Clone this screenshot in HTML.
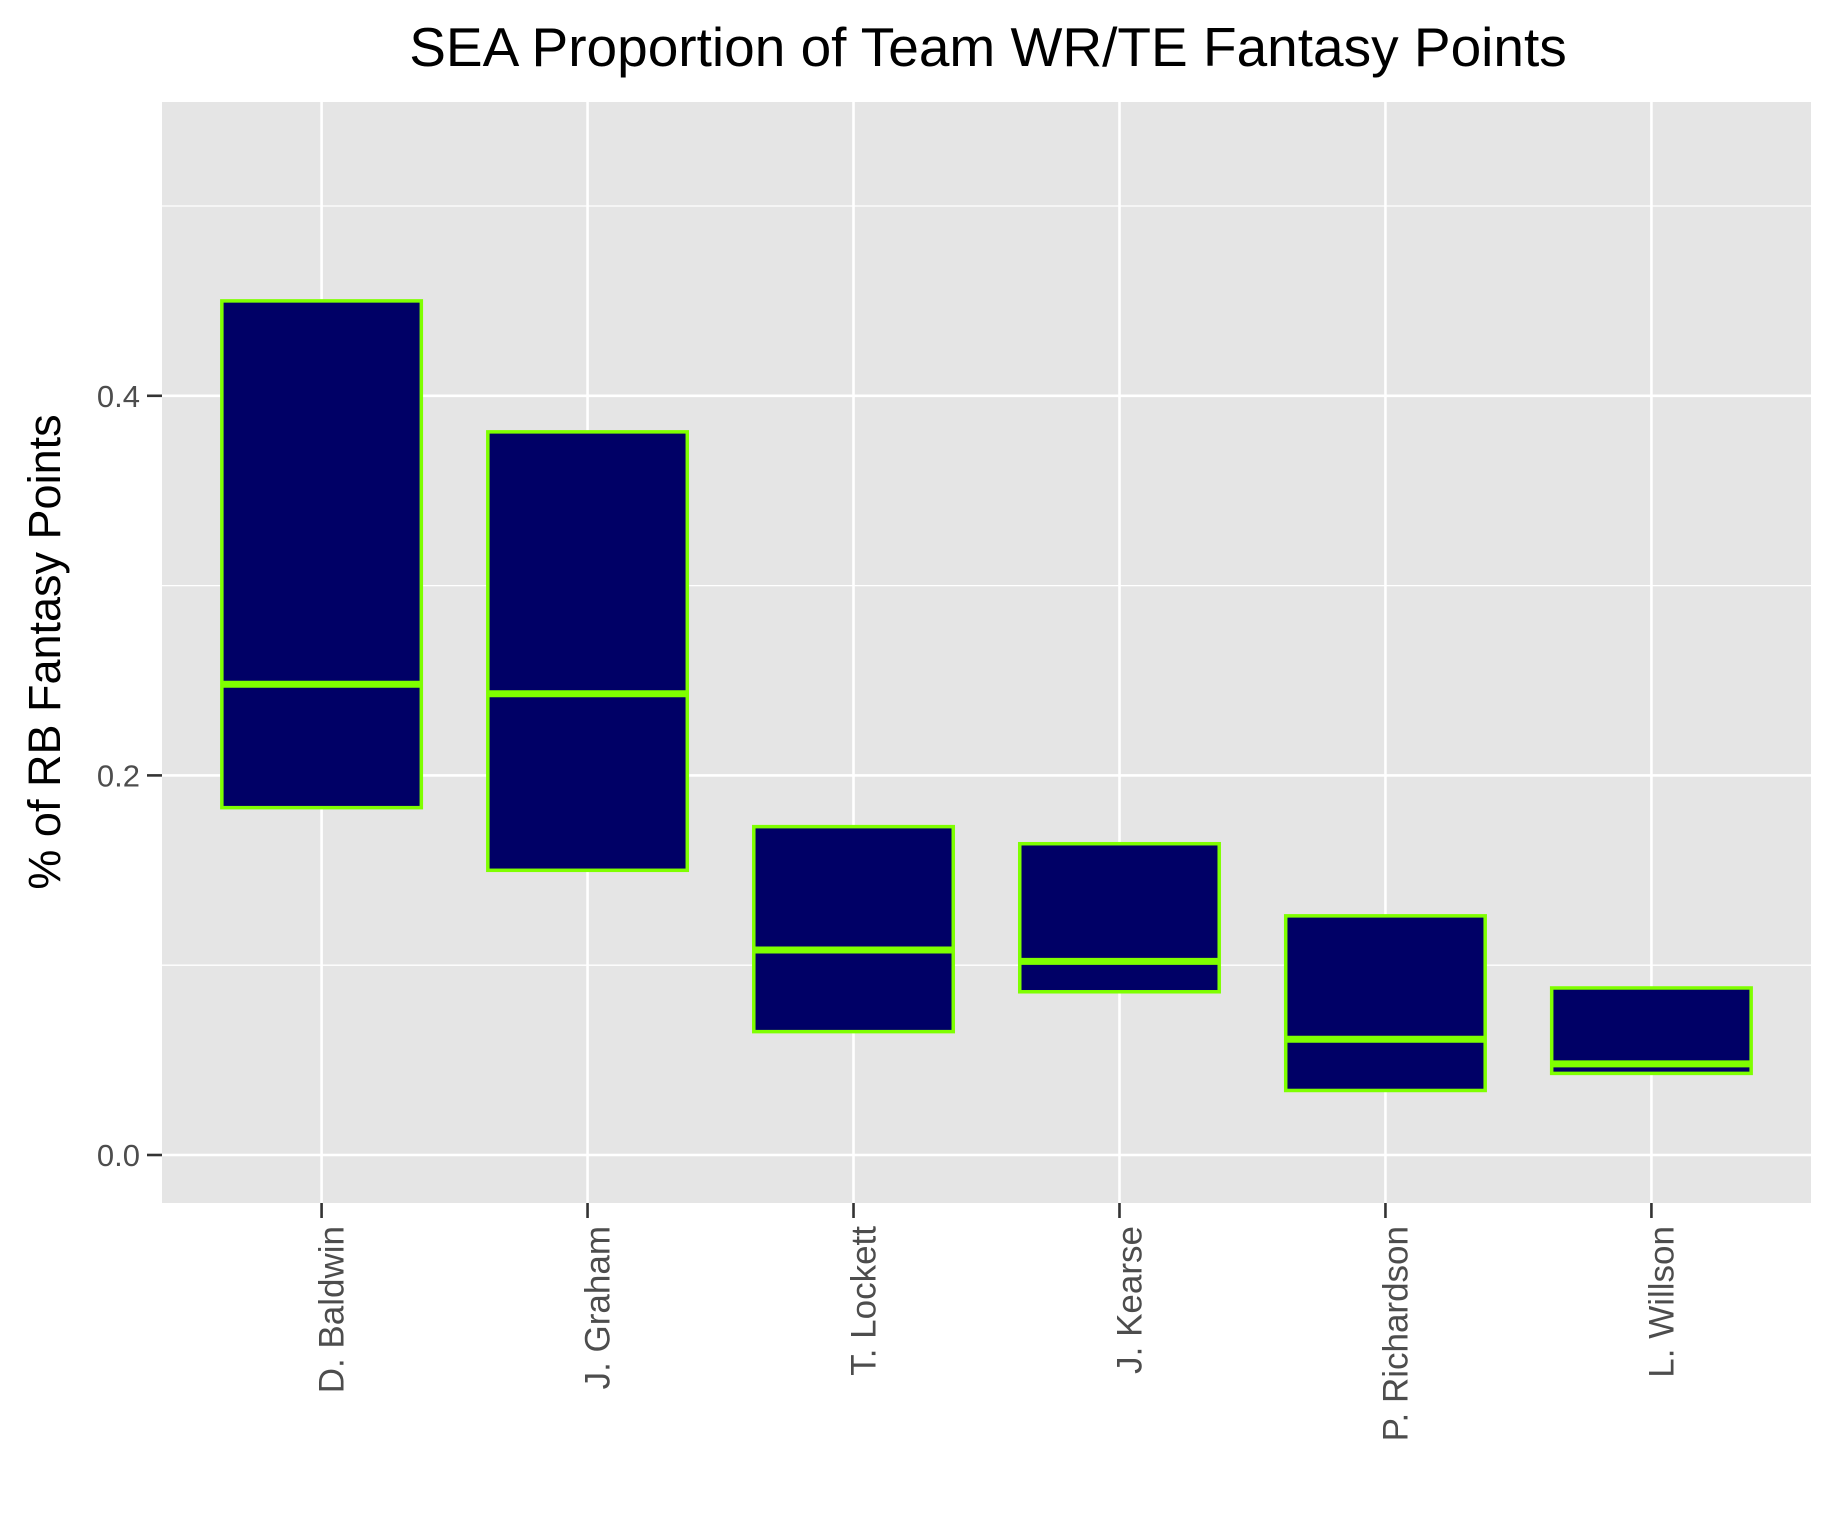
<!DOCTYPE html>
<html><head><meta charset="utf-8"><style>body{margin:0;background:#fff}svg{display:block}text{font-family:"Liberation Sans",Arial,sans-serif}</style></head>
<body>
<svg id="c" width="1833" height="1529"></svg>
<script>
const categories=["D. Baldwin","J. Graham","T. Lockett","J. Kearse","P. Richardson","L. Willson"];
const q1=[0.183,0.150,0.065,0.086,0.034,0.043];
const med=[0.248,0.243,0.108,0.102,0.061,0.048];
const q3=[0.450,0.381,0.173,0.164,0.126,0.088];
const yTicks=[0,0.2,0.4];
const yMinor=[0.1,0.3,0.5];
const ns="http://www.w3.org/2000/svg";
const svg=document.getElementById('c');
const L=162,R=1811,T=102,B=1203;
const y=v=>1155-v*1898;
const x=i=>L+(i+1-0.4)*(R-L)/6.2;
const bw=0.75*(R-L)/6.2;
function mk(t,a,p){const e=document.createElementNS(ns,t);for(const k in a)e.setAttribute(k,a[k]);(p||svg).appendChild(e);return e;}
const panel=mk('rect',{x:L,y:T,width:R-L,height:B-T,fill:'#e5e5e5'});


yMinor.forEach(v=>{const g=mk('line',{x1:L,x2:R,y1:y(v),y2:y(v),stroke:'#fff','stroke-width':1.3});

});
yTicks.forEach(v=>{const g=mk('line',{x1:L,x2:R,y1:y(v),y2:y(v),stroke:'#fff','stroke-width':2.6});


const tk=mk('line',{x1:147,x2:L,y1:y(v),y2:y(v),stroke:'#333','stroke-width':2.6});


const t=mk('text',{x:140,y:y(v)+11,'text-anchor':'end','font-size':31,fill:'#4d4d4d'});t.textContent=v.toFixed(1);

});
categories.forEach((c,i)=>{const cx=x(i);
const g=mk('line',{x1:cx,x2:cx,y1:T,y2:B,stroke:'#fff','stroke-width':2.6});


const tk=mk('line',{x1:cx,x2:cx,y1:B,y2:B+15,stroke:'#333','stroke-width':2.6});


const t=mk('text',{x:0,y:0,'text-anchor':'end','font-size':35,fill:'#4d4d4d',transform:`translate(${cx+22},1226) rotate(-90)`});t.textContent=c;

});
categories.forEach((c,i)=>{const cx=x(i);
const b=mk('rect',{x:cx-bw/2,y:y(q3[i]),width:bw,height:y(q1[i])-y(q3[i]),fill:'#000066',stroke:'#7fff00','stroke-width':3.5});


const m=mk('line',{x1:cx-bw/2,x2:cx+bw/2,y1:y(med[i]),y2:y(med[i]),stroke:'#7fff00','stroke-width':7});

});
const ti=mk('text',{x:988,y:66,'text-anchor':'middle','font-size':55,fill:'#000'});ti.textContent='SEA Proportion of Team WR/TE Fantasy Points';


const yt=mk('text',{x:0,y:0,'text-anchor':'middle','font-size':45,fill:'#000',transform:'translate(60,652) rotate(-90)'});yt.textContent='% of RB Fantasy Points';


</script>
</body></html>
